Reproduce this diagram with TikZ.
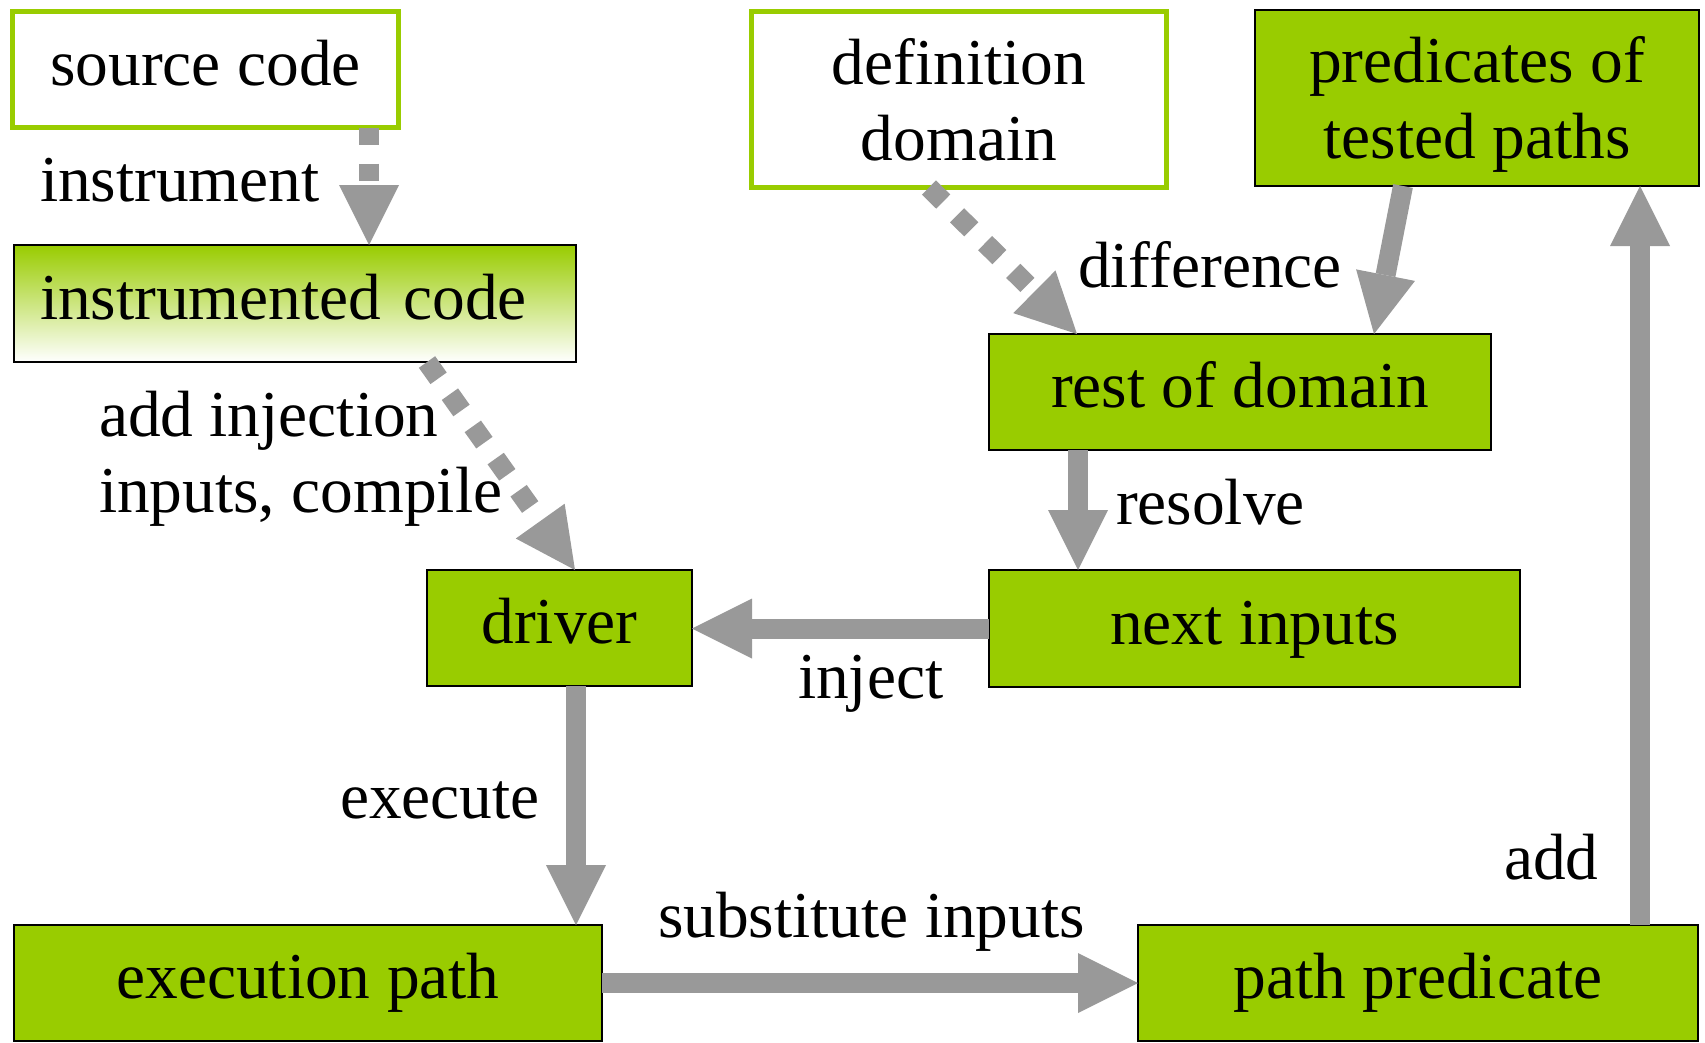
\documentclass[tikz,border=0pt]{standalone}
\usepackage{fontspec}
\setmainfont{Liberation Serif}
\usetikzlibrary{arrows.meta}
\definecolor{boxgreen}{HTML}{99CC00}
\definecolor{arrgray}{HTML}{999999}
\begin{document}
\begin{tikzpicture}[x=1pt,y=-1pt,
  every node/.style={font=\fontsize{65.4}{76}\selectfont, inner sep=0pt, outer sep=0pt},
  box/.style={draw=black, line width=2.5pt, fill=boxgreen, text height=46pt, text depth=15pt, align=center},
  inbox/.style={draw=boxgreen, line width=5pt, fill=white, text height=46pt, text depth=15pt, align=center},
  twoline/.style={text height=136pt, text depth=15pt},
  lbl/.style={anchor=base west},
  conn/.style={draw=arrgray, line width=20pt, -{Triangle[length=60pt,width=60pt,line width=0pt]}},
  dashconn/.style={conn, dash pattern=on 17pt off 19pt},
  dotconn/.style={conn, dash pattern=on 20pt off 19.5pt},
]
\useasboundingbox (0,0) rectangle (1705,1042);

% boxes
\node[inbox, minimum width=386pt, minimum height=116pt] (src) at (205.5,69.5) {source code};
\node[draw=black, line width=2.5pt, top color=boxgreen, bottom color=white,
      text height=46pt, text depth=15pt, text width=510pt, align=left,
      minimum width=562pt, minimum height=117pt] (instr) at (295,303.5) {instrumented code};
\node[inbox, twoline, minimum width=415pt, minimum height=176pt] (defdom) at (959,99.5) {definition\\domain};
\node[box, twoline, minimum width=444pt, minimum height=176pt] (preds) at (1477,98) {predicates of\\tested paths};
\node[box, minimum width=502pt, minimum height=116pt] (rest) at (1240,392) {rest of domain};
\node[box, minimum width=265pt, minimum height=116pt] (driver) at (559.5,628) {driver};
\node[box, minimum width=531pt, minimum height=117pt] (next) at (1254.5,628.5) {next inputs};
\node[box, minimum width=588pt, minimum height=116pt] (exec) at (308,983) {execution path};
\node[box, minimum width=560pt, minimum height=116pt] (pathpred) at (1418,983) {path predicate};

% connectors
\draw[dashconn] ([xshift=163.5pt]src.south) -- ([xshift=74pt]instr.north);
\draw[dotconn] ([xshift=132pt]instr.south) -- ([xshift=15.5pt]driver.north);
\draw[dotconn] ([xshift=-30pt]defdom.south) -- ([xshift=-163pt]rest.north);
\draw[conn] ([xshift=-74pt]preds.south) -- ([xshift=134pt]rest.north);
\draw[conn] ([xshift=-162pt]rest.south) -- ([xshift=-176.5pt]next.north);
\draw[conn] (next.west) -- (next.west -| driver.east);
\draw[conn] ([xshift=16.5pt]driver.south) -- ([xshift=268pt]exec.north);
\draw[conn] (exec.east) -- (pathpred.west);
\draw[conn] ([xshift=222pt]pathpred.north) -- ([xshift=163pt]preds.south);

% labels
\node[lbl] (linstr) at (40,201) {instrument};
\node[lbl, align=left] (linject) at (99,512) {add injection\\inputs, compile};
\node[lbl] (ldiff) at (1078,287) {difference};
\node[lbl] (lres) at (1116,524) {resolve};
\node[lbl] (linj) at (798,698) {inject};
\node[lbl] (lexe) at (340,818) {execute};
\node[lbl] (lsub) at (658,937) {substitute inputs};
\node[lbl] (ladd) at (1504,879) {add};
\end{tikzpicture}
\end{document}
